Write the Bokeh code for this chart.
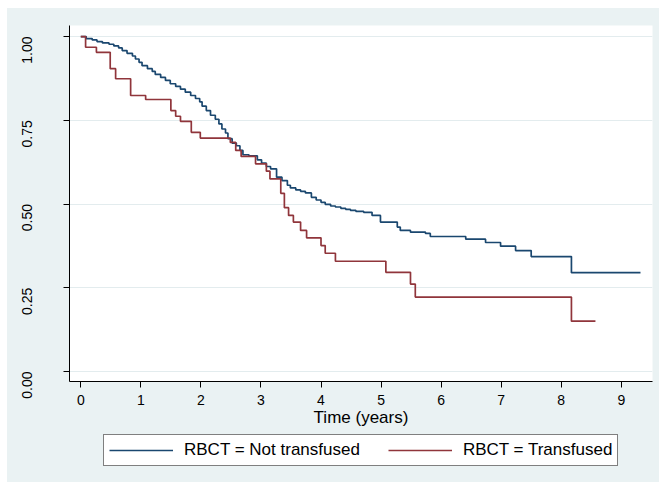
from bokeh.plotting import figure
from bokeh.models import FixedTicker, Legend, LegendItem, ColumnDataSource
from bokeh.layouts import column
from bokeh.embed import file_html
from bokeh.resources import INLINE
import math

# ---- data (Kaplan-Meier survival estimates) ----
series_names = ["RBCT = Not transfused", "RBCT = Transfused"]

not_transfused_time = [0, 0.09, 0.19, 0.27, 0.36, 0.47, 0.55, 0.63, 0.69, 0.77,
                       0.86, 0.91, 0.97, 1.02, 1.11, 1.19, 1.24, 1.33, 1.41, 1.49,
                       1.58, 1.66, 1.74, 1.83, 1.91, 1.98, 2.02, 2.09, 2.16, 2.24,
                       2.30, 2.35, 2.41, 2.45, 2.52, 2.59, 2.65, 2.70, 2.80, 2.94,
                       3.01, 3.09, 3.16, 3.26, 3.35, 3.44, 3.49, 3.58, 3.66, 3.74,
                       3.84, 3.92, 4.00, 4.07, 4.16, 4.24, 4.33, 4.41, 4.49, 4.58,
                       4.71, 4.85, 4.99, 5.27, 5.32, 5.49, 5.74, 5.82, 6.41, 6.74,
                       6.99, 7.24, 7.50, 8.17]
not_transfused_surv = [1.000, 0.994, 0.990, 0.985, 0.981, 0.977, 0.972, 0.966, 0.958, 0.950,
                       0.942, 0.933, 0.923, 0.913, 0.904, 0.896, 0.887, 0.878, 0.869, 0.859,
                       0.851, 0.843, 0.834, 0.824, 0.815, 0.805, 0.792, 0.779, 0.765, 0.753,
                       0.739, 0.724, 0.712, 0.695, 0.682, 0.674, 0.660, 0.647, 0.644, 0.632,
                       0.622, 0.612, 0.605, 0.580, 0.570, 0.556, 0.548, 0.542, 0.538, 0.533,
                       0.520, 0.512, 0.505, 0.499, 0.494, 0.491, 0.487, 0.484, 0.481, 0.478,
                       0.475, 0.466, 0.446, 0.431, 0.421, 0.416, 0.412, 0.403, 0.395, 0.385,
                       0.374, 0.361, 0.343, 0.295]
not_transfused_last_followup = 9.32

transfused_time = [0, 0.08, 0.26, 0.49, 0.58, 0.83, 1.08, 1.50, 1.58, 1.66,
                   1.84, 1.99, 2.49, 2.58, 2.67, 2.91, 3.09, 3.15, 3.33, 3.39,
                   3.46, 3.54, 3.66, 3.76, 4.00, 4.07, 4.24, 5.08, 5.49, 5.57, 8.17]
transfused_surv = [1.000, 0.968, 0.953, 0.904, 0.874, 0.824, 0.812, 0.779, 0.762, 0.747,
                   0.714, 0.697, 0.684, 0.660, 0.642, 0.620, 0.598, 0.575, 0.532, 0.489,
                   0.466, 0.446, 0.421, 0.399, 0.376, 0.353, 0.329, 0.296, 0.261, 0.222, 0.150]
transfused_last_followup = 8.57

x_ticks = [0, 1, 2, 3, 4, 5, 6, 7, 8, 9]
y_ticks = [0, 0.25, 0.5, 0.75, 1.0]
y_tick_labels = ["0.00", "0.25", "0.50", "0.75", "1.00"]
x_title = "Time (years)"

BLUE = "#1a476f"
RED = "#90353b"
BG = "#eaf2f3"
FONT = "Liberation Sans"

src_nt = ColumnDataSource(dict(t=not_transfused_time + [not_transfused_last_followup],
                               s=not_transfused_surv + [not_transfused_surv[-1]]))
src_t = ColumnDataSource(dict(t=transfused_time + [transfused_last_followup],
                              s=transfused_surv + [transfused_surv[-1]]))

# ---- main plot ----
p = figure(width=652, height=426, output_backend="svg", toolbar_location=None,
           x_range=(-0.188, 9.52), y_range=(-0.030, 1.033),
           min_border_left=62, min_border_right=7, min_border_top=17, min_border_bottom=53)
p.border_fill_color = BG
p.background_fill_color = "white"
p.outline_line_color = None

p.step("t", "s", source=src_nt, mode="after", line_color=BLUE, line_width=1.7)
p.step("t", "s", source=src_t, mode="after", line_color=RED, line_width=1.7)

p.xaxis.ticker = FixedTicker(ticks=x_ticks)
p.yaxis.ticker = FixedTicker(ticks=y_ticks)
p.yaxis.major_label_overrides = {t: l for t, l in zip(y_ticks, y_tick_labels)}
p.yaxis.major_label_orientation = math.pi / 2
for ax in (p.xaxis, p.yaxis):
    ax.axis_line_color = "black"
    ax.axis_line_width = 1
    ax.major_tick_line_color = "black"
    ax.major_tick_out = 6
    ax.major_tick_in = 0
    ax.minor_tick_line_color = None
    ax.major_label_text_font = FONT
    ax.major_label_text_font_size = "14px"
    ax.major_label_text_color = "black"
p.yaxis.major_label_standoff = 36
p.xaxis.major_label_standoff = 7
p.xaxis.axis_label = x_title
p.xaxis.axis_label_text_font = FONT
p.xaxis.axis_label_text_font_size = "17px"
p.xaxis.axis_label_text_font_style = "normal"
p.xaxis.axis_label_text_color = "black"
p.xaxis.axis_label_standoff = 0

p.xgrid.grid_line_color = None
p.ygrid.ticker = FixedTicker(ticks=y_ticks)
p.ygrid.grid_line_color = "#e3ecee"
p.ygrid.grid_line_width = 1

# ---- legend strip below (same series, drawn outside its view; only the legend shows) ----
p2 = figure(width=652, height=48, output_backend="svg", toolbar_location=None,
            x_range=(100, 101), y_range=(100, 101), x_axis_location=None, y_axis_location=None,
            min_border_left=62, min_border_right=7, min_border_top=0, min_border_bottom=0)
p2.border_fill_color = BG
p2.background_fill_color = BG
p2.outline_line_color = None
p2.grid.grid_line_color = None
k1 = p2.step("t", "s", source=src_nt, mode="after", line_color=BLUE, line_width=1.7)
k2 = p2.step("t", "s", source=src_t, mode="after", line_color=RED, line_width=1.7)

legend = Legend(items=[LegendItem(label=series_names[0], renderers=[k1]),
                       LegendItem(label=series_names[1], renderers=[k2])],
                orientation="horizontal", location=(34, 16),
                label_text_font=FONT, label_text_font_size="17px", label_text_color="black",
                glyph_width=64, glyph_height=16, label_height=16, label_standoff=11,
                spacing=28, padding=5, margin=0,
                border_line_color="black", border_line_width=1,
                background_fill_color="white", background_fill_alpha=1.0)
p2.add_layout(legend, "center")

layout = column(p, p2, spacing=0, margin=(8, 0, 0, 7), styles={"background-color": BG})
open("out.html", "w").write(file_html(layout, INLINE))
